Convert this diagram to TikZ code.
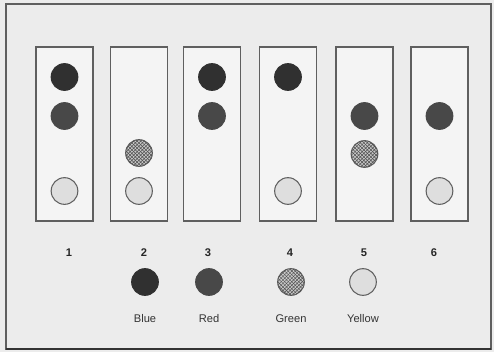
\documentclass[tikz,border=0pt]{standalone}
\usepackage{fontspec}
\setmainfont{Liberation Sans}
\usepackage{tikz}
\usetikzlibrary{patterns}
\usepackage{xcolor}
\definecolor{paper}{RGB}{236, 236, 236}
\definecolor{frameline}{RGB}{95, 95, 95}
\definecolor{bluedot}{RGB}{48, 48, 48}
\definecolor{reddot}{RGB}{72, 72, 72}
\definecolor{greendot}{RGB}{200, 200, 200}
\definecolor{greengrid}{RGB}{80, 80, 80}
\definecolor{yellowdot}{RGB}{222, 222, 222}
\tikzset{
  tube/.style      = {rectangle, draw=frameline, line width=1.2pt, fill=paper!60!white, minimum width=1.71cm, minimum height=5.22cm},
  ball/.style      = {circle, minimum size=0.8cm, inner sep=0pt, line width=0.9pt},
  blueball/.style  = {ball, fill=bluedot, draw=bluedot},
  redball/.style   = {ball, fill=reddot, draw=reddot},
  greenball/.style = {ball, draw=frameline, fill=greendot, postaction={pattern=crosshatch, pattern color=greengrid}},
  yellowball/.style= {ball, draw=frameline, fill=yellowdot},
  numlab/.style    = {font=\fontsize{9.5}{11}\selectfont\bfseries, text=black!85},
  keylab/.style    = {font=\fontsize{9.5}{11}\selectfont, text=black!80},
}

\begin{document}
\begin{tikzpicture}[x=0.03cm, y=-0.03cm]
  % bounding box = image size
  \useasboundingbox (0,0) rectangle (494,352);
  \fill[paper] (0,0) rectangle (494,352);

  % outer frame
  \draw[frameline, line width=1.2pt] (6,4) rectangle (491,349);
  \draw[black!80, line width=2pt] (6,349) -- (491,349);

  % six tubes
  \foreach \n/\x in {1/64.5, 2/139, 3/212, 4/288, 5/364.5, 6/439.5}
    \node[tube] (tube\n) at (\x,134) {};

  % tube 1
  \node[blueball]   (t1b) at (64.5,77)  {};
  \node[redball]    (t1r) at (64.5,116) {};
  \node[yellowball] (t1y) at (64.5,191) {};
  % tube 2
  \node[greenball]  (t2g) at (139,153)  {};
  \node[yellowball] (t2y) at (139,191)  {};
  % tube 3
  \node[blueball]   (t3b) at (212,77)   {};
  \node[redball]    (t3r) at (212,116)  {};
  % tube 4
  \node[blueball]   (t4b) at (288,77)   {};
  \node[yellowball] (t4y) at (288,191)  {};
  % tube 5
  \node[redball]    (t5r) at (364.5,116) {};
  \node[greenball]  (t5g) at (364.5,154) {};
  % tube 6
  \node[redball]    (t6r) at (439.5,116) {};
  \node[yellowball] (t6y) at (439.5,191) {};

  % tube numbers
  \foreach \n/\x in {1/69, 2/144, 3/208, 4/290, 5/364, 6/434}
    \node[numlab] (num\n) at (\x,253) {\n};

  % colour key
  \node[blueball]   (keyb) at (145,282) {};
  \node[redball]    (keyr) at (209,282) {};
  \node[greenball]  (keyg) at (291,282) {};
  \node[yellowball] (keyy) at (363,282) {};
  \node[keylab] (keybt) at (145,319) {Blue};
  \node[keylab] (keyrt) at (209,319) {Red};
  \node[keylab] (keygt) at (291,319) {Green};
  \node[keylab] (keyyt) at (363,319) {Yellow};

\end{tikzpicture}
\end{document}
